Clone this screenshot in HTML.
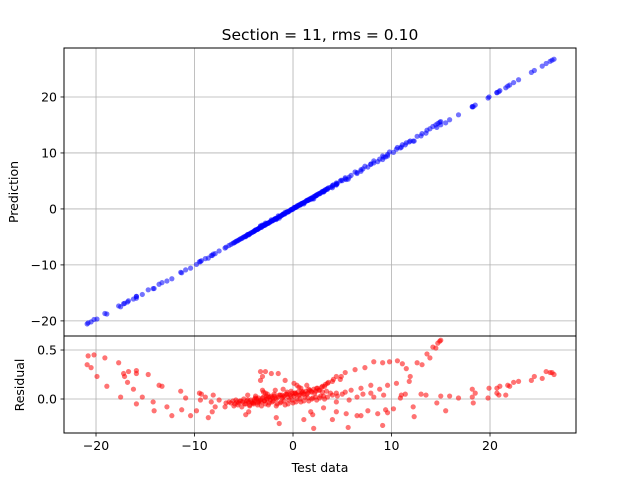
<!DOCTYPE html>
<html><head><meta charset="utf-8"><style>
html,body{margin:0;padding:0;background:#fff;}
svg{display:block;font-family:"DejaVu Sans","Liberation Sans",sans-serif;}
</style></head><body>
<svg id="chart" width="640" height="480" viewBox="0 0 640 480" xmlns="http://www.w3.org/2000/svg">
<rect width="640" height="480" fill="#fff"/>
<g id="grid"></g><g id="marks"></g><g id="axes"></g>
<text x="320" y="40" text-anchor="middle" font-size="15.5">Section = 11, rms = 0.10</text>
<text transform="translate(18,192) rotate(-90)" text-anchor="middle" font-size="12.5">Prediction</text>
<text transform="translate(24,385) rotate(-90)" text-anchor="middle" font-size="12.5">Residual</text>
<text x="320" y="472" text-anchor="middle" font-size="12.5">Test data</text>
</svg>
<script>
const testData = [-20.8,-20.2,-20.9,-20.5,-19.9,-19.1,-18.9,-17.7,-17.5,-17.2,-17.1,-16.7,-16.8,-16.2,-15.9,-15.9,-15.9,-15.3,-14.7,-14.2,-14.1,-13.6,-13.3,-12.8,-12.3,-11.4,-11.3,-10.9,-10.4,-9.8,-9.5,-9.4,-9.3,-8.9,-8.6,-8.3,-8.2,-8.1,-7.9,-7.5,-6.9,-6.8,
-3.3,-3.1,-2.8,-2.2,-1.5,-0.8,-3.3,-3.1,-2.8,-1.7,-1.4,1.1,2.1,1.8,2.0,-4.8,-4.5,0.1,0.4,0.8,
-6.5,-6.3,-6.1,-5.9,-5.7,-5.5,-5.3,-5.1,-4.9,-4.7,-4.5,-4.3,-4.1,-3.9,-3.7,-3.5,-3.3,-3.1,-2.9,-2.7,-2.5,-2.3,-2.1,-1.9,-1.7,-1.5,-1.3,-1.1,-0.9,-0.7,-0.5,-0.3,-0.1,0.1,0.3,0.5,0.7,0.9,1.1,1.3,1.5,1.7,1.9,2.1,2.3,2.5,2.7,2.9,
-6.0,-5.6,-5.2,-4.8,-4.4,-4.0,-3.6,-3.2,-2.8,-2.4,-2.0,-1.6,-1.2,-0.8,-0.4,0.0,0.4,0.8,1.2,1.6,2.0,2.4,2.8,3.2,
-4.6,-3.8,-3.0,-2.6,-1.8,-1.0,-0.2,0.6,1.4,
-5.8,-5.4,-5.0,-4.6,-4.2,-3.8,-3.4,-3.0,-2.6,-2.2,-1.8,-1.4,-1.0,-0.6,-0.2,0.2,0.6,1.0,1.4,1.8,2.2,2.6,3.0,3.4,3.8,
-4.4,-4.0,-3.6,-3.2,-2.9,-2.5,-2.1,-1.7,-1.3,-0.9,-0.5,-0.1,0.3,0.7,1.1,1.5,1.9,2.3,2.7,3.1,3.5,4.0,4.5,5.0,
-3.9,-3.5,-2.7,-2.3,-1.9,-1.1,-0.6,0.2,0.9,1.6,2.4,3.2,
3.3,3.6,4.1,4.4,4.8,4.9,3.0,3.5,4.0,
3.1,4.0,4.4,4.4,4.4,5.3,5.3,5.6,5.4,5.7,5.9,6.3,6.5,6.9,6.5,6.9,7.1,7.3,7.6,7.9,7.9,8.2,8.6,8.2,8.8,9.1,9.1,9.2,9.4,9.6,9.6,9.8,10.2,10.5,10.6,10.9,11.0,11.1,11.4,11.5,11.8,11.9,12.2,12.3,12.6,13.0,13.1,13.5,13.6,13.9,14.2,14.5,14.7,14.9,15.0,14.6,15.5,15.0,15.9,16.8,18.2,18.5,18.2,18.3,19.8,19.9,20.7,20.7,21.0,20.9,21.6,21.8,22.0,22.4,22.9,24.2,24.5,25.3,25.7,26.1,26.3,26.5];
const residual = [0.44,0.45,0.35,0.32,0.23,0.42,0.13,0.37,0.02,0.26,0.23,0.28,0.17,0.10,0.29,0.26,-0.05,0.02,0.25,-0.03,-0.12,0.14,0.13,-0.08,-0.17,0.08,-0.11,0.01,-0.17,-0.12,0.06,-0.01,0.05,0.02,-0.19,-0.03,-0.13,0.04,-0.08,-0.01,-0.08,-0.04,
0.28,0.23,0.28,0.26,0.26,0.19,0.19,0.09,0.06,-0.19,-0.25,-0.21,-0.30,-0.13,-0.16,-0.16,-0.13,0.16,0.14,0.11,
-0.03,-0.04,-0.02,-0.05,-0.03,-0.04,-0.02,-0.03,-0.05,-0.02,-0.03,-0.01,-0.04,-0.02,0.00,-0.03,-0.01,0.01,-0.02,0.00,0.02,-0.01,0.01,0.03,0.00,0.02,0.04,0.01,0.03,0.05,0.02,0.04,0.06,0.03,0.05,0.07,0.04,0.06,0.05,0.08,0.06,0.09,0.07,0.10,0.08,0.11,0.09,0.12,
-0.07,-0.06,-0.08,-0.05,-0.07,-0.04,-0.06,-0.03,-0.05,-0.04,-0.02,-0.05,-0.03,-0.06,-0.01,-0.04,0.00,-0.03,0.02,-0.02,0.01,-0.01,0.03,0.00,
0.04,0.03,0.07,0.05,0.09,0.10,0.08,0.12,0.14,
-0.01,-0.02,0.00,-0.01,-0.03,0.01,-0.02,0.02,0.00,0.03,0.01,0.04,0.02,0.05,0.03,0.06,0.04,0.07,0.05,0.08,0.06,0.09,0.07,0.08,0.06,
-0.06,-0.05,-0.04,-0.07,-0.02,-0.06,-0.03,-0.07,-0.04,-0.02,-0.05,-0.01,-0.03,0.00,-0.02,0.01,0.00,0.02,0.01,0.03,0.02,0.04,0.03,0.05,
0.00,0.01,0.03,0.02,0.05,0.04,0.07,0.06,0.08,0.10,0.11,0.13,
0.15,0.17,0.20,0.23,0.20,0.23,0.13,0.16,0.18,
-0.09,-0.21,-0.03,-0.13,0.06,0.07,0.27,-0.29,-0.15,-0.01,0.09,0.30,-0.17,-0.17,0.02,0.11,0.05,0.32,-0.12,0.14,0.06,0.02,-0.15,0.38,0.10,0.37,-0.27,0.04,-0.11,-0.14,0.14,0.38,-0.10,0.16,0.39,0.01,0.04,0.36,0.05,0.31,0.18,0.23,-0.08,-0.18,0.37,0.05,0.35,0.04,0.46,0.42,0.53,0.52,0.57,0.59,0.60,-0.04,-0.12,0.03,0.03,0.01,0.10,0.06,0.02,-0.04,0.01,0.11,0.11,0.06,0.13,0.04,0.04,0.14,0.13,0.17,0.18,0.19,0.23,0.21,0.28,0.27,0.27,0.25];
const xTicks = [-20,-10,0,10,20];
const yTicksTop = [-20,-10,0,10,20];
const yTicksBottom = [0.0,0.5];
const yTickBottomLabels = ["0.0","0.5"];

const NS="http://www.w3.org/2000/svg";
const L=64,R=576,T1=48,B1=336,T2=336,B2=433;
const xMin=-23.25,xMax=28.73,y1Min=-22.7,y1Max=28.75,y2Min=-0.347,y2Max=0.643;
const sx=v=>L+(v-xMin)/(xMax-xMin)*(R-L);
const sy1=v=>B1-(v-y1Min)/(y1Max-y1Min)*(B1-T1);
const sy2=v=>B2-(v-y2Min)/(y2Max-y2Min)*(B2-T2);
function mk(tag,attrs,parent){const e=document.createElementNS(NS,tag);for(const k in attrs)e.setAttribute(k,attrs[k]);parent.appendChild(e);return e;}
const grid=document.getElementById('grid'),marks=document.getElementById('marks'),axes=document.getElementById('axes');
xTicks.forEach(t=>{
  const x=sx(t);
  let g=mk('line',{x1:x,x2:x,y1:T1,y2:B1,stroke:'#b0b0b0','stroke-width':0.8},grid);
  
  
  g=mk('line',{x1:x,x2:x,y1:T2,y2:B2,stroke:'#b0b0b0','stroke-width':0.8},grid);
  
  
  mk('line',{x1:x,x2:x,y1:B2,y2:B2+3.5,stroke:'#000','stroke-width':0.8},axes);
  const tx=mk('text',{x:x,y:B2+17,'text-anchor':'middle','font-size':12.5},axes);
  tx.textContent=(t<0?'\u2212'+(-t):String(t));
  
  
});
yTicksTop.forEach(t=>{
  const y=sy1(t);
  const g=mk('line',{x1:L,x2:R,y1:y,y2:y,stroke:'#b0b0b0','stroke-width':0.8},grid);
  
  
  mk('line',{x1:L-3.5,x2:L,y1:y,y2:y,stroke:'#000','stroke-width':0.8},axes);
  const tx=mk('text',{x:L-7,y:y+4.5,'text-anchor':'end','font-size':12.5},axes);
  tx.textContent=(t<0?'\u2212'+(-t):String(t));
  
  
});
yTicksBottom.forEach((t,i)=>{
  const y=sy2(t);
  const g=mk('line',{x1:L,x2:R,y1:y,y2:y,stroke:'#b0b0b0','stroke-width':0.8},grid);
  
  
  mk('line',{x1:L-3.5,x2:L,y1:y,y2:y,stroke:'#000','stroke-width':0.8},axes);
  const tx=mk('text',{x:L-7,y:y+4.5,'text-anchor':'end','font-size':12.5},axes);
  tx.textContent=yTickBottomLabels[i];
  
  
});
const defs=mk('defs',{},marks);
const c1=mk('clipPath',{id:'c1'},defs);mk('rect',{x:L,y:T1,width:R-L,height:B1-T1},c1);
const c2=mk('clipPath',{id:'c2'},defs);mk('rect',{x:L,y:T2,width:R-L,height:B2-T2},c2);
const gTop=mk('g',{'clip-path':'url(#c1)'},marks);


const gBot=mk('g',{'clip-path':'url(#c2)'},marks);


testData.forEach((v,i)=>{
  const p=v+residual[i];
  const a=mk('circle',{cx:sx(v),cy:sy1(p),r:2.6,fill:'#0000ff','fill-opacity':0.55},gTop);
  
  
  const b=mk('circle',{cx:sx(v),cy:sy2(residual[i]),r:2.6,fill:'#ff0000','fill-opacity':0.55},gBot);
  
  
});
const f1=mk('rect',{x:L,y:T1,width:R-L,height:B1-T1,fill:'none',stroke:'#000','stroke-width':1},axes);


const f2=mk('rect',{x:L,y:T2,width:R-L,height:B2-T2,fill:'none',stroke:'#000','stroke-width':1},axes);


</script>
</body></html>
